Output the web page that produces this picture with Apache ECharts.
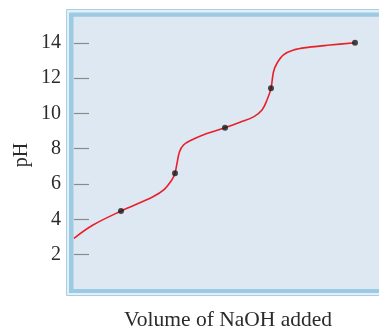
<!DOCTYPE html>
<html>
<head>
<meta charset="utf-8">
<script src="https://cdn.jsdelivr.net/npm/echarts@6/dist/echarts.min.js"></script>
<style>
html,body{margin:0;padding:0;background:#fff;}
#chart{width:379px;height:328px;}
</style>
</head>
<body>
<div id="chart"></div>
<script>
// Volume of NaOH added (arbitrary units) and pH
const curveVolume = [0, 19, 47, 79, 90, 98, 101, 103, 105.5, 109.5, 116, 129, 151, 166, 180, 188, 193, 197, 199.5, 203, 209.5, 219.5, 234, 256, 281];
const curvePH     = [2.93, 3.68, 4.47, 5.28, 5.68, 6.25, 6.61, 7.17, 7.83, 8.21, 8.45, 8.78, 9.19, 9.50, 9.82, 10.19, 10.76, 11.42, 12.36, 12.84, 13.31, 13.59, 13.74, 13.87, 14.0];
const dotVolume = [47, 101, 151, 197, 281];
const dotPH     = [4.47, 6.61, 9.19, 11.42, 14.0];
const yTicks = [2, 4, 6, 8, 10, 12, 14];
const xTitle = 'Volume of NaOH added';
const yTitle = 'pH';

const chart = echarts.init(document.getElementById('chart'), null, {renderer: 'canvas'});
const serif = 'Liberation Serif, Times New Roman, serif';
chart.setOption({
  animation: false,
  grid: {left: 74, top: 17, bottom: 38, right: 0, containLabel: false},
  xAxis: {
    type: 'value', min: 0, max: 305,
    axisLine: {show: false}, axisTick: {show: false},
    axisLabel: {show: false}, splitLine: {show: false}
  },
  yAxis: {
    type: 'value', min: 0, max: 15.46,
    axisLine: {show: false},
    splitLine: {show: false},
    axisTick: {show: true, inside: true, length: 15, customValues: yTicks,
      lineStyle: {color: '#8a8a8a', width: 1.2}},
    axisLabel: {show: true, customValues: yTicks, margin: 13,
      fontFamily: serif, fontSize: 20, color: '#2b2b2b'}
  },
  graphic: [
    {type: 'rect', z: -10, shape: {x: 66.5, y: 9.5, width: 400, height: 286}, style: {fill: '#e3eff7', stroke: '#a9cfe5', lineWidth: 1}},
    {type: 'rect', z: -9, shape: {x: 69, y: 12.5, width: 400, height: 280.5}, style: {fill: '#9dcae3'}},
    {type: 'rect', z: -8, shape: {x: 73.5, y: 16.7, width: 400, height: 272.3}, style: {fill: '#dde8f2'}},
    {type: 'text', x: 22, y: 155, rotation: Math.PI / 2,
      style: {text: yTitle, fontFamily: serif, fontSize: 20, fill: '#2b2b2b', align: 'center', verticalAlign: 'middle'}},
    {type: 'text', x: 228, y: 320,
      style: {text: xTitle, fontFamily: serif, fontSize: 21.5, fill: '#2b2b2b', align: 'center', verticalAlign: 'middle'}}
  ],
  series: [
    {
      type: 'line', data: curveVolume.map((v, i) => [v, curvePH[i]]),
      smooth: 0.35, showSymbol: false,
      lineStyle: {color: '#e8202a', width: 1.6}, z: 3
    },
    {
      type: 'scatter', data: dotVolume.map((v, i) => [v, dotPH[i]]),
      symbolSize: 6, itemStyle: {color: '#1c1c1c'}, z: 4
    }
  ]
});
</script>
</body>
</html>
